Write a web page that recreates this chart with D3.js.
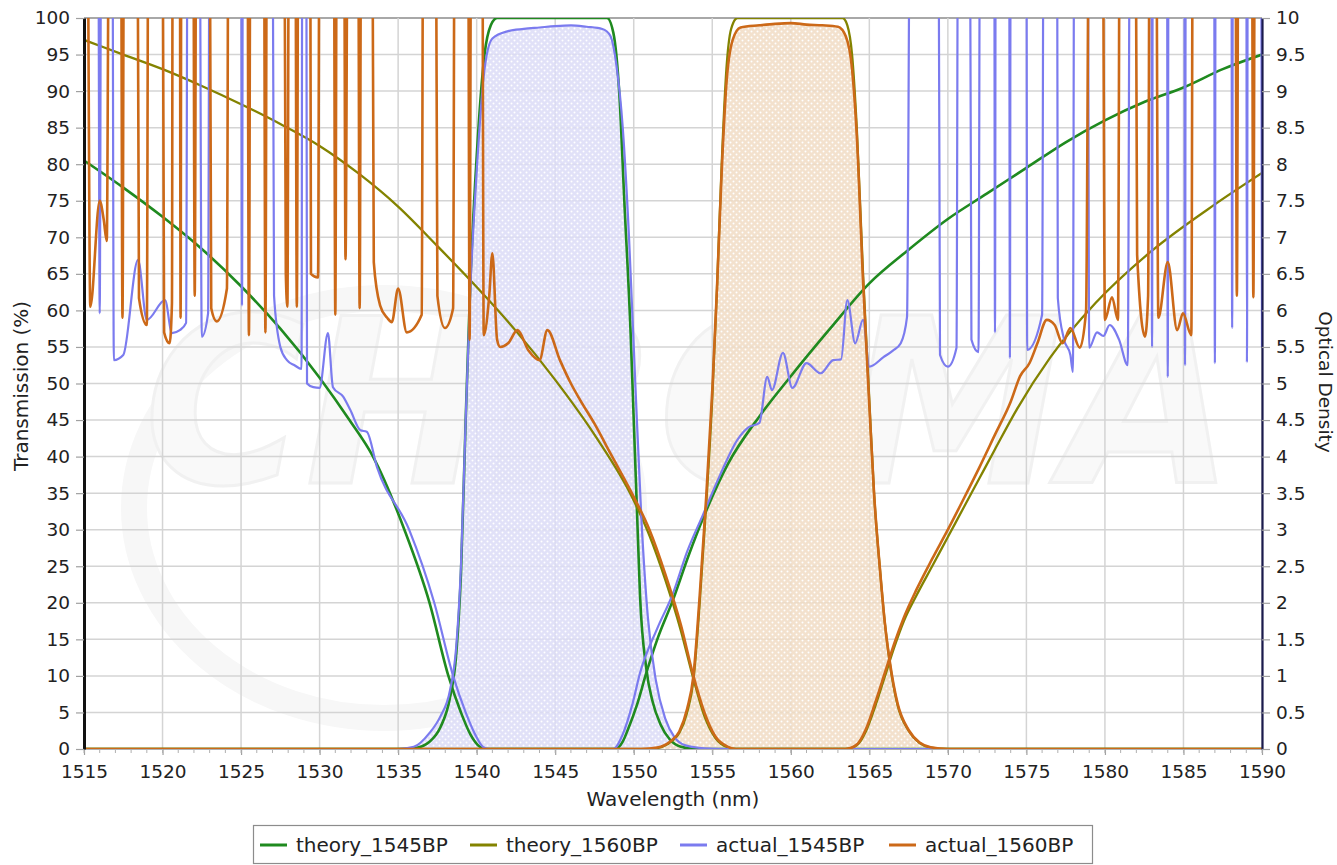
<!DOCTYPE html>
<html>
<head>
<meta charset="utf-8">
<script src="https://cdn.jsdelivr.net/npm/d3@7"></script>
<style>
  body { margin: 0; background: #fff; }
  svg { display: block; }
</style>
</head>
<body>
<div id="chart"></div>
<script>
// ---- data: [wavelength nm, value] ----
// transmission (%) curves, left axis
var theory1545T = [[1515,0],[1535,0],[1536,0.1],[1537,1.0],[1537.7,3],[1538.3,7],[1538.7,13],[1539,24],[1539.3,45],[1539.6,64],[1540,81],[1540.5,95],[1540.9,99],[1541.3,100],[1548.3,100],[1548.7,98],[1549.1,89],[1549.4,75],[1549.8,57],[1550,45],[1550.2,33],[1550.4,21],[1550.8,11],[1551.2,6.5],[1551.7,3.4],[1552.3,1.3],[1553,0.3],[1554,0],[1590,0]];
var theory1560T = [[1515,0],[1551,0],[1551.8,0.3],[1552.5,1.2],[1552.9,2.2],[1553.4,5],[1553.8,9.4],[1554.2,20],[1554.6,33],[1555,48],[1555.3,63],[1555.6,80],[1555.9,93],[1556.2,98.5],[1556.6,100],[1563.3,100],[1563.6,99],[1563.9,95],[1564.2,85],[1564.6,65],[1565,47.7],[1565.3,35],[1565.7,24],[1566,17],[1566.3,11.8],[1566.8,6],[1567.5,2.5],[1568.2,0.8],[1568.9,0.2],[1570,0],[1590,0]];
var actual1545T = [[1515,0],[1535,0],[1536,0.3],[1537,2.2],[1537.7,4.5],[1538.3,8],[1538.7,14],[1539,25],[1539.3,45],[1539.6,63],[1540,79],[1540.5,93],[1541,97.2],[1542,98.2],[1543,98.5],[1544,98.7],[1545,98.9],[1546,99],[1547,98.8],[1548,98.5],[1548.5,97.6],[1548.9,93.5],[1549.3,85],[1549.7,70],[1550.1,50],[1550.5,31],[1550.9,18],[1551.4,9.5],[1552,4.2],[1552.6,1.6],[1553.3,0.5],[1554.5,0.1],[1556,0],[1590,0]];
var actual1560T = [[1515,0],[1550.5,0],[1551.5,0.2],[1552.3,1],[1552.9,2.4],[1553.4,5.5],[1553.8,10],[1554.2,21],[1554.6,34],[1555,49],[1555.3,63],[1555.6,79],[1555.9,91],[1556.3,97],[1556.8,98.7],[1558,99],[1559,99.2],[1560,99.3],[1561,99.1],[1562,99],[1563,98.8],[1563.5,97.5],[1563.9,93],[1564.2,84],[1564.6,64],[1565,47],[1565.3,35],[1565.7,24],[1566,17],[1566.3,12],[1566.8,6.2],[1567.5,2.6],[1568.2,0.9],[1568.9,0.25],[1570,0],[1590,0]];

// optical density curves, right axis (values above 10 run off the top)
var theory1545OD = [[1515,8.05],[1517.5,7.68],[1520,7.28],[1522.5,6.84],[1525,6.33],[1527.5,5.75],[1530,5.08],[1531.9,4.5],[1533.4,4.0],[1535.4,3.0],[1537,2.0],[1538.2,1.0],[1539,0.5],[1539.6,0.2],[1540.2,0.03],[1540.6,0],[1548.8,0],[1549.3,0.1],[1549.6,0.25],[1550.2,0.6],[1550.8,1.04],[1551.5,1.5],[1552.5,2.04],[1553.5,2.65],[1554.5,3.2],[1556,3.9],[1558,4.55],[1560,5.1],[1562.5,5.75],[1565,6.37],[1567.5,6.83],[1570,7.25],[1572.5,7.6],[1575,7.95],[1577.5,8.3],[1580,8.6],[1582.5,8.85],[1585,9.05],[1587.5,9.3],[1590,9.5]];
var theory1560OD = [[1515,9.7],[1517.5,9.5],[1520,9.3],[1522.5,9.07],[1525,8.82],[1527.5,8.55],[1530,8.25],[1532.5,7.87],[1535,7.42],[1537.5,6.88],[1540,6.32],[1542.5,5.72],[1545,5.05],[1547.5,4.3],[1550,3.4],[1551,2.92],[1552,2.32],[1553,1.62],[1553.8,0.96],[1554.5,0.45],[1555.2,0.15],[1556,0.02],[1556.5,0],[1563.5,0],[1564.2,0.05],[1564.8,0.25],[1565.4,0.6],[1566,1.0],[1566.6,1.4],[1567.2,1.75],[1568,2.1],[1569,2.5],[1570,2.9],[1571,3.3],[1572,3.7],[1573,4.1],[1574.4,4.65],[1576.5,5.35],[1579.4,6.1],[1582.9,6.8],[1587,7.45],[1590,7.88]];
var actual1545OD = [[1515,12],[1515.9,12],[1516.0,5.96],[1516.1,12],[1516.8,12],[1516.9,5.32],[1517.5,5.39],[1518.44,6.69],[1519.0,5.87],[1520.16,6.14],[1520.6,5.69],[1521.1,5.73],[1521.5,5.83],[1521.6,12],[1522.35,12],[1522.5,5.64],[1522.9,5.96],[1523.0,12],[1525.0,12],[1525.06,6.07],[1525.12,12],[1527.0,12],[1527.1,6.2],[1527.5,5.5],[1527.92,5.32],[1528.4,5.25],[1528.85,5.2],[1528.9,12],[1529.15,12],[1529.2,5.0],[1529.6,4.95],[1530.0,4.94],[1530.53,5.69],[1530.85,4.95],[1531.5,4.82],[1531.95,4.64],[1532.6,4.36],[1533.0,4.34],[1533.65,3.86],[1535.7,3.0],[1537.3,2.0],[1538.5,1.0],[1539.3,0.5],[1539.9,0.2],[1540.4,0.03],[1540.8,0],[1548.7,0],[1549.3,0.2],[1549.9,0.6],[1550.4,1.04],[1551.5,1.65],[1552.5,2.13],[1553.4,2.7],[1554.4,3.2],[1555.5,3.75],[1556.6,4.23],[1557.3,4.4],[1558,4.46],[1558.5,5.09],[1558.8,4.91],[1559.5,5.42],[1560.1,4.94],[1561,5.28],[1561.9,5.14],[1562.7,5.32],[1563.2,5.33],[1563.6,6.14],[1564.1,5.55],[1564.6,5.87],[1565,5.23],[1565.9,5.36],[1566.5,5.45],[1567,5.55],[1567.4,5.91],[1567.6,12],[1569.4,12],[1569.5,5.39],[1570,5.23],[1570.55,5.49],[1570.65,12],[1571.4,12],[1571.5,5.6],[1571.95,5.43],[1572.05,12],[1572.95,12],[1573.0,5.7],[1573.05,12],[1573.9,12],[1573.95,5.35],[1574.0,12],[1575.0,12],[1575.05,5.46],[1576.0,5.94],[1576.1,12],[1576.95,12],[1577.0,6.17],[1577.4,5.6],[1577.8,5.39],[1577.96,5.16],[1578.05,12],[1578.9,12],[1579.0,5.49],[1579.5,5.7],[1579.9,5.65],[1580.3,5.8],[1580.9,5.6],[1581.45,5.25],[1581.6,12],[1582.95,12],[1583.0,5.5],[1583.05,12],[1583.95,12],[1584.0,5.09],[1584.05,12],[1585.05,12],[1585.1,5.25],[1585.15,12],[1586.95,12],[1587.0,5.28],[1587.05,12],[1588.05,12],[1588.1,5.76],[1588.15,12],[1589.0,12],[1589.04,5.29],[1589.1,12],[1589.95,12],[1590,5.5]];
var actual1560OD = [[1515,12],[1515.2,12],[1515.4,6.05],[1516.0,7.5],[1516.25,7.25],[1516.45,6.95],[1516.6,12],[1517.35,12],[1517.45,5.9],[1517.55,12],[1518.4,12],[1518.5,6.17],[1519.0,5.8],[1519.1,12],[1520.0,12],[1520.1,5.7],[1520.45,5.55],[1520.6,6.1],[1520.65,12],[1521.1,12],[1521.15,5.9],[1521.2,12],[1521.95,12],[1522.05,6.2],[1522.15,12],[1523.0,12],[1523.1,6.03],[1523.45,5.85],[1524.1,6.3],[1524.2,12],[1525.4,12],[1525.5,5.66],[1525.6,12],[1526.45,12],[1526.55,5.7],[1526.65,12],[1527.75,12],[1527.85,6.5],[1527.95,6.05],[1528.05,12],[1528.45,12],[1528.55,6.05],[1528.65,12],[1529.4,12],[1529.45,6.5],[1529.9,6.45],[1530.0,12],[1530.9,12],[1531.0,5.94],[1531.1,12],[1531.55,12],[1531.65,6.7],[1531.8,12],[1532.45,12],[1532.55,6.03],[1532.65,12],[1533.35,12],[1533.45,6.66],[1533.85,6.07],[1534.3,5.9],[1534.6,5.84],[1535.0,6.3],[1535.55,5.7],[1536.5,5.94],[1536.6,12],[1537.4,12],[1537.5,6.2],[1537.98,5.76],[1538.5,6.03],[1538.6,12],[1539.45,12],[1539.55,5.6],[1539.65,12],[1540.35,12],[1540.45,5.66],[1540.8,6.2],[1541.0,6.78],[1541.3,5.6],[1541.5,5.5],[1542.0,5.55],[1542.6,5.73],[1543.3,5.45],[1544.0,5.32],[1544.5,5.73],[1545.3,5.32],[1546.0,5.0],[1546.6,4.77],[1547.5,4.45],[1548.5,4.05],[1550,3.45],[1551,3.0],[1552,2.4],[1553,1.7],[1553.8,1.0],[1554.5,0.5],[1555.2,0.17],[1556,0.03],[1556.5,0],[1563.5,0],[1564.2,0.06],[1564.8,0.28],[1565.4,0.65],[1566,1.05],[1566.6,1.45],[1567.2,1.8],[1568,2.18],[1569,2.6],[1570,3.0],[1571,3.42],[1572,3.85],[1573,4.3],[1574,4.75],[1574.6,5.1],[1575.2,5.28],[1575.7,5.55],[1576.3,5.87],[1576.8,5.8],[1577.3,5.55],[1577.8,5.76],[1578.4,5.49],[1578.8,6.0],[1579.0,12],[1579.85,12],[1580.0,5.87],[1580.45,6.18],[1580.83,5.87],[1580.95,12],[1581.95,12],[1582.05,6.76],[1582.55,5.64],[1582.75,6.2],[1582.85,12],[1583.25,12],[1583.4,5.9],[1584.0,6.66],[1584.6,5.73],[1584.97,5.96],[1585.5,5.66],[1585.6,12],[1588.3,12],[1588.4,6.2],[1588.5,12],[1589.35,12],[1589.45,6.18],[1589.55,12],[1590,12]];

var xTicks = d3.range(1515, 1591, 5);
var tTicks = d3.range(0, 101, 5);
var odTicks = d3.range(0, 10.01, 0.5);

var series = [
  { name: 'theory_1545BP', color: '#1f8a1f', width: 2.6, T: theory1545T, OD: theory1545OD },
  { name: 'theory_1560BP', color: '#838300', width: 2.3, T: theory1560T, OD: theory1560OD },
  { name: 'actual_1545BP', color: '#7b7bef', width: 2.2, T: actual1545T, OD: actual1545OD },
  { name: 'actual_1560BP', color: '#cc6918', width: 2.6, T: actual1560T, OD: actual1560OD }
];

var FONT = '"DejaVu Sans", Verdana, sans-serif';
var W = 1337, H = 865;
var margin = { top: 18, right: 75, bottom: 116, left: 84 };
var iw = W - margin.left - margin.right;
var ih = H - margin.top - margin.bottom;

var svg = d3.select('#chart').append('svg').attr('width', W).attr('height', H);
var defs = svg.append('defs');
defs.append('clipPath').attr('id', 'plotclip').append('rect').attr('width', iw).attr('height', ih);

function dotPattern(id, bg) {
  var p = defs.append('pattern').attr('id', id).attr('width', 6).attr('height', 6).attr('patternUnits', 'userSpaceOnUse');
  p.append('rect').attr('width', 6).attr('height', 6).attr('fill', bg);
  p.append('circle').attr('cx', 1.5).attr('cy', 1.5).attr('r', 1).attr('fill', '#fff');
  p.append('circle').attr('cx', 4.5).attr('cy', 4.5).attr('r', 1).attr('fill', '#fff');
}
dotPattern('fillBlue', '#dcdcf7');
dotPattern('fillOrange', '#f1dcc4');

var g = svg.append('g').attr('transform', 'translate(' + margin.left + ',' + margin.top + ')');

var x = d3.scaleLinear().domain([1515, 1590]).range([0, iw]);
var yT = d3.scaleLinear().domain([0, 100]).range([ih, 0]);
var yOD = d3.scaleLinear().domain([0, 10]).range([ih, 0]);

// faint watermark
var wm = g.append('g').attr('clip-path', 'url(#plotclip)');
wm.append('ellipse').attr('cx', 300).attr('cy', 490).attr('rx', 250).attr('ry', 210)
  .attr('fill', 'none').attr('stroke', '#f7f7f7').attr('stroke-width', 26);
wm.append('text').attr('x', 60).attr('y', 465).attr('font-family', FONT).attr('font-size', 230)
  .attr('font-style', 'italic').attr('font-weight', 'bold').attr('textLength', 1090).attr('lengthAdjust', 'spacingAndGlyphs')
  .attr('fill', '#f9f9f9').attr('stroke', '#f1f1f1').attr('stroke-width', 3).text('CHROMA');

// Grid
g.append('g').selectAll('line').data(tTicks).join('line')
  .attr('x1', 0).attr('x2', iw).attr('y1', function(d) { return yT(d); }).attr('y2', function(d) { return yT(d); })
  .attr('stroke', function(d) { return d === 100 ? '#a8a8a8' : '#d4d4d4'; }).attr('stroke-width', function(d) { return d === 100 ? 2 : 1.5; });
g.append('g').selectAll('line').data(xTicks).join('line')
  .attr('x1', function(d) { return x(d); }).attr('x2', function(d) { return x(d); }).attr('y1', 0).attr('y2', ih)
  .attr('stroke', '#d4d4d4').attr('stroke-width', 1.5);

// Filled passbands (actual)
var area = d3.area().curve(d3.curveMonotoneX)
  .x(function(d) { return x(d[0]); }).y0(ih).y1(function(d) { return yT(d[1]); });
var plot = g.append('g').attr('clip-path', 'url(#plotclip)');
plot.append('path').datum(actual1545T).attr('d', area).attr('fill', 'url(#fillBlue)').attr('opacity', 0.85);
plot.append('path').datum(actual1560T).attr('d', area).attr('fill', 'url(#fillOrange)').attr('opacity', 0.85);

// Lines
var lineT = d3.line().curve(d3.curveMonotoneX).x(function(d) { return x(d[0]); }).y(function(d) { return yT(d[1]); });
var lineOD = d3.line().curve(d3.curveMonotoneX).x(function(d) { return x(d[0]); }).y(function(d) { return yOD(d[1]); });
series.forEach(function(s) {
  plot.append('path').datum(s.OD).attr('d', lineOD).attr('fill', 'none')
    .attr('stroke', s.color).attr('stroke-width', s.width).attr('stroke-linejoin', 'round');
  plot.append('path').datum(s.T).attr('d', lineT).attr('fill', 'none')
    .attr('stroke', s.color).attr('stroke-width', s.width).attr('stroke-linejoin', 'round');
});

// Axes
function styleAxis(sel, domainColor, domainWidth) {
  sel.select('.domain').attr('stroke', domainColor).attr('stroke-width', domainWidth);
  sel.selectAll('.tick line').attr('stroke', '#a0a0a0').attr('stroke-width', 1.2);
  sel.selectAll('.tick text').attr('fill', '#222').attr('font-size', '18.5px').attr('font-family', FONT);
}
g.append('g').attr('transform', 'translate(0,' + ih + ')')
  .call(d3.axisBottom(x).tickValues(xTicks).tickFormat(d3.format('d')).tickSize(6).tickPadding(10).tickSizeOuter(0))
  .call(function(a) { styleAxis(a, '#b0b0b0', 1); });
// minor ticks every 1 nm
g.append('g').selectAll('line').data(d3.range(1515, 1591, 1)).join('line')
  .attr('x1', function(d) { return x(d); }).attr('x2', function(d) { return x(d); })
  .attr('y1', ih).attr('y2', ih + 4).attr('stroke', '#b0b0b0');

g.append('g')
  .call(d3.axisLeft(yT).tickValues(tTicks).tickFormat(d3.format('d')).tickSize(8).tickPadding(6).tickSizeOuter(0))
  .call(function(a) { styleAxis(a, '#111', 3); });
g.append('g').attr('transform', 'translate(' + iw + ',0)')
  .call(d3.axisRight(yOD).tickValues(odTicks).tickFormat(d3.format('')).tickSize(8).tickPadding(6).tickSizeOuter(0))
  .call(function(a) { styleAxis(a, '#1b1b4d', 2.2); });

// Axis titles
svg.append('text').attr('x', 673).attr('y', 806)
  .attr('text-anchor', 'middle').attr('fill', '#222').attr('font-size', '20px').attr('font-family', FONT)
  .text('Wavelength (nm)');
svg.append('text').attr('transform', 'translate(28,386) rotate(-90)')
  .attr('text-anchor', 'middle').attr('fill', '#222').attr('font-size', '20px').attr('font-family', FONT)
  .text('Transmission (%)');
svg.append('text').attr('transform', 'translate(1319,382) rotate(90)')
  .attr('text-anchor', 'middle').attr('fill', '#222').attr('font-size', '18.5px').attr('font-family', FONT)
  .text('Optical Density');

// Legend
var lg = svg.append('g');
lg.append('rect').attr('x', 253.5).attr('y', 825.5).attr('width', 839).attr('height', 38)
  .attr('fill', '#fff').attr('stroke', '#8c8c8c').attr('stroke-width', 1.2);
var legendX = [260, 470, 680, 889];
series.forEach(function(s, i) {
  lg.append('line').attr('x1', legendX[i]).attr('x2', legendX[i] + 27).attr('y1', 845).attr('y2', 845)
    .attr('stroke', s.color).attr('stroke-width', 3);
  lg.append('text').attr('x', legendX[i] + 36).attr('y', 852).attr('fill', '#222')
    .attr('font-size', '20px').attr('font-family', FONT).text(s.name);
});
</script>
</body>
</html>
